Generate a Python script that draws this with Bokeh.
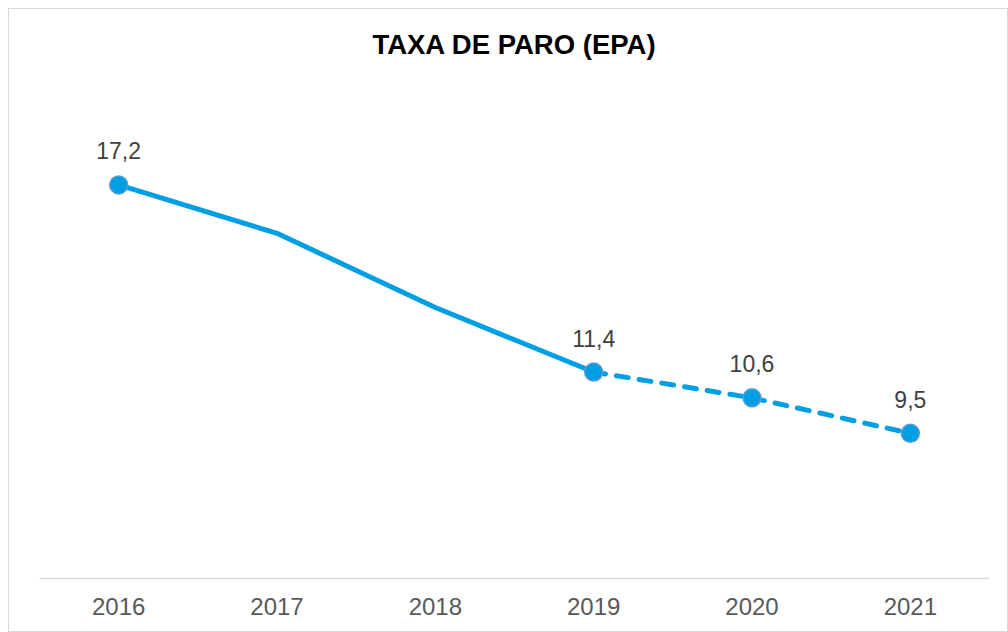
from bokeh.plotting import figure
from bokeh.models import ColumnDataSource, Range1d, FactorRange, LabelSet
from bokeh.core.properties import value
from bokeh.embed import file_html
from bokeh.resources import INLINE

# ---- data ----
years = ["2016", "2017", "2018", "2019", "2020", "2021"]
rate = [17.2, 15.7, 13.4, 11.4, 10.6, 9.5]
labels = ["17,2", "", "", "11,4", "10,6", "9,5"]
solid_idx = [0, 1, 2, 3]
dash_idx = [3, 4, 5]
marker_idx = [0, 3, 4, 5]

LINE = "#009fe3"

p = figure(width=1000, height=624, x_range=FactorRange(factors=years),
           y_range=Range1d(5, 20.56), output_backend="svg",
           toolbar_location=None, title="TAXA DE PARO (EPA)",
           min_border_left=30, min_border_right=20, min_border_bottom=55,
           min_border_top=60)
p.margin = (8, 0, 0, 8)
p.styles = {"border": "1px solid #d9d9d9", "box-sizing": "border-box"}

p.title.align = "center"
p.title.text_font = "Liberation Sans"
p.title.text_font_size = "27.5px"
p.title.text_font_style = "bold"
p.title.text_color = "#000000"
p.title.standoff = 34

p.outline_line_color = None
p.xgrid.grid_line_color = None
p.ygrid.grid_line_color = None
p.yaxis.visible = False
p.xaxis.axis_line_color = "#d9d9d9"
p.xaxis.axis_line_width = 1.5
p.xaxis.major_tick_line_color = None
p.xaxis.minor_tick_line_color = None
p.xaxis.major_label_text_font = "Liberation Sans"
p.xaxis.major_label_text_font_size = "24px"
p.xaxis.major_label_text_color = "#595959"
p.xaxis.major_label_standoff = 13

solid = ColumnDataSource(dict(x=[years[i] for i in solid_idx], y=[rate[i] for i in solid_idx]))
dash = ColumnDataSource(dict(x=[years[i] for i in dash_idx], y=[rate[i] for i in dash_idx]))
marks = ColumnDataSource(dict(x=[years[i] for i in marker_idx], y=[rate[i] for i in marker_idx],
                              lab=[labels[i] for i in marker_idx]))

p.line("x", "y", source=solid, line_color=LINE, line_width=5, line_join="round", line_cap="round")
p.line("x", "y", source=dash, line_color=LINE, line_width=5, line_dash="12 11", line_cap="round")
p.scatter("x", "y", source=marks, size=18, fill_color=LINE, line_color="#5b9bd5", line_width=1.5)

p.add_layout(LabelSet(x="x", y="y", text="lab", source=marks, text_align="center",
                      text_baseline="middle", y_offset=34, text_font=value("Liberation Sans"),
                      text_font_size=value("23px"), text_color=value("#404040")))

open("out.html", "w").write(file_html(p, INLINE))
